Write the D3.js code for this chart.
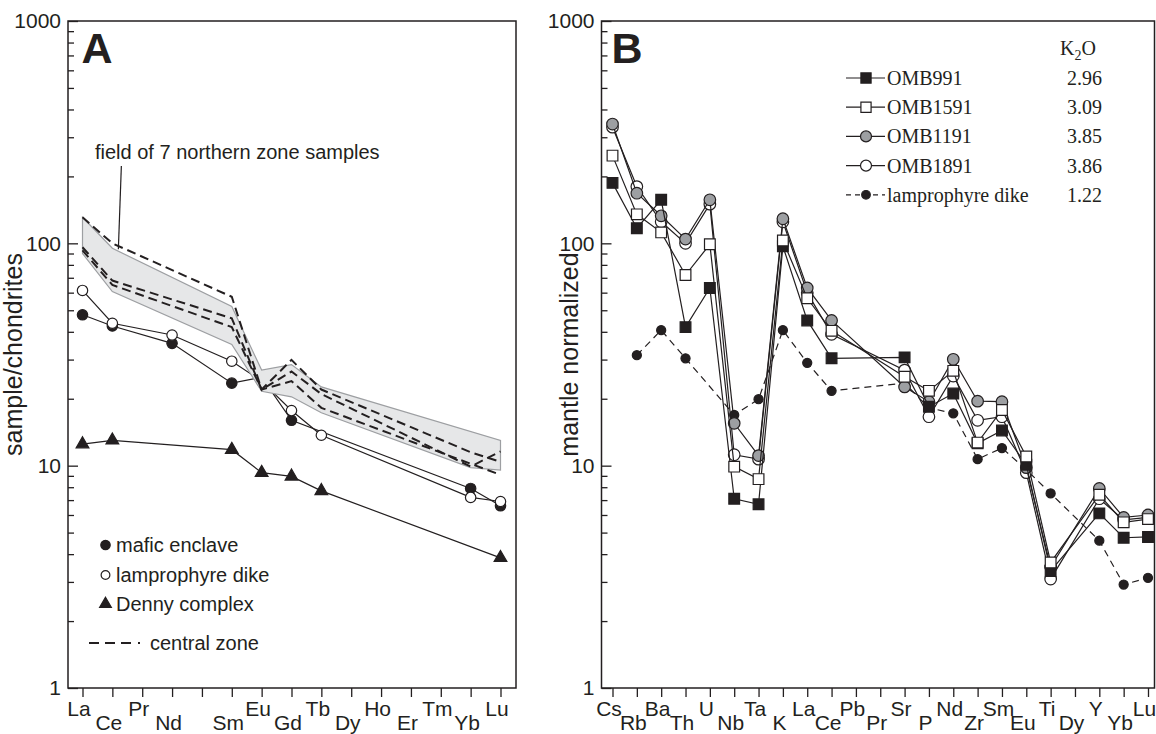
<!DOCTYPE html>
<html>
<head>
<meta charset="utf-8">
<script src="https://cdn.jsdelivr.net/npm/d3@7"></script>
<style>
  body { margin: 0; background: #fff; }
  svg { display: block; font-family: "Liberation Sans", Arial, sans-serif; }
</style>
</head>
<body>
<svg id="chart" width="1156" height="734"></svg>
<script>
// ---- panel A : REE / chondrite ----
const reeLabels = ["La","Ce","Pr","Nd","","Sm","Eu","Gd","Tb","Dy","Ho","Er","Tm","Yb","Lu"];
const maficEnclave = [47.7, 42.5, null, 35.5, null, 23.5, 25, 16.0, null, null, null, null, null, 7.9, 6.6];
const lamprophyreA = [61.4, 43.7, null, 38.7, null, 29.5, 24, 17.7, 13.7, null, null, null, null, 7.2, 6.9];
const dennyComplex = [12.5, 13.0, null, null, null, 11.8, 9.3, 8.95, 7.7, null, null, null, null, null, 3.85];
const fieldUpper   = [131, 95, null, null, null, 52, 26.9, 28.5, 22.6, null, null, null, null, null, 13.0];
const fieldLower   = [90, 60.7, null, null, null, 35.1, 21.6, 20.4, 17.3, null, null, null, null, 9.8, 9.55];
const centralZone1 = [131, 100, null, null, null, 57.5, 22, 29.9, 22, null, null, null, null, 11.5, 10.4];
const centralZone2 = [96, 68, null, null, null, 46, 22, 26.5, 21, null, null, null, null, 9.9, 11.6];
const centralZone3 = [93, 65, null, null, null, 42, 22, 24, 18.2, null, null, null, null, 10.2, 9.1];

// ---- panel B : mantle normalized ----
const traceLabels = ["Cs","Rb","Ba","Th","U","Nb","Ta","K","La","Ce","Pb","Pr","Sr","P","Nd","Zr","Sm","Eu","Ti","Dy","Y","Yb","Lu"];
const omb991  = [187, 117, 157, 42, 63, 7.1, 6.7, 97, 45, 30.4, null, null, 30.7, 18.4, 21.1, 12.6, 14.4, 10.1, 3.36, null, 6.1, 4.74, 4.78];
const omb1591 = [248, 135, 112, 72, 99, 9.9, 8.7, 103, 56.6, 40.4, null, null, 25.1, 21.7, 26.7, 12.7, 17.8, 11.0, 3.67, null, 7.4, 5.56, 5.75];
const omb1191 = [344, 168, 133, 104.5, 157, 15.5, 11.1, 129, 63, 45, null, null, 22.6, 19.4, 30.1, 19.5, 19.4, 9.8, 3.5, null, 7.9, 5.85, 6.0];
const omb1891 = [333, 180, 125, 100, 150, 11.2, 10.7, 125, 60, 39, null, null, 26.9, 16.6, 25.3, 16.0, 16.6, 9.3, 3.09, null, 7.1, 5.7, 5.85];
const lampDike = [null, 31.4, 40.7, 30.4, null, 16.9, 19.9, 40.7, 29.0, 21.7, null, null, 23.5, 18.2, 17.2, 10.7, 12.0, 9.6, 7.5, null, 4.6, 2.92, 3.13];
const sampleNames = ["OMB991","OMB1591","OMB1191","OMB1891","lamprophyre dike"];
const k2oValues = ["2.96","3.09","3.85","3.86","1.22"];

const majorTicks = [1, 10, 100, 1000];
const minorTicks = [2,3,4,5,6,7,8,9,20,30,40,50,60,70,80,90,200,300,400,500,600,700,800,900];

const ink = "#231f20";
const svg = d3.select("#chart");

const y = d3.scaleLog().domain([1, 1000]).range([688, 21]);
const xA = d3.scalePoint().domain(d3.range(reeLabels.length)).range([82.5, 500.5]);
const xB = d3.scalePoint().domain(d3.range(traceLabels.length)).range([612.5, 1148]);

function toPoints(values) {
	return values.map((v, i) => ({i, v})).filter(d => d.v != null);
}

function frame(left, right, x, labels, title, titleX, letter) {
	const g = svg.append("g");

	g.append("rect")
		.attr("x", left).attr("y", 21)
		.attr("width", right - left).attr("height", 667)
		.attr("fill", "none").attr("stroke", ink).attr("stroke-width", 1.5);

	g.append("g")
		.attr("transform", `translate(${left},0)`)
		.call(d3.axisLeft(y).tickValues(majorTicks).tickFormat(d3.format("d")).tickSize(-10).tickPadding(7));
	g.append("g")
		.attr("transform", `translate(${left},0)`)
		.call(d3.axisLeft(y).tickValues(minorTicks).tickFormat("").tickSize(-6));

	const bottom = g.append("g")
		.attr("transform", "translate(0,688)")
		.call(d3.axisBottom(x).tickSize(9).tickFormat(i => labels[i]));
	bottom.selectAll(".tick text")
		.attr("dy", null)
		.attr("x", -4)
		.attr("y", i => i % 2 ? 42 : 28);

	g.selectAll(".domain").remove();
	g.selectAll(".tick line").attr("stroke", ink).attr("stroke-width", 1.3);
	g.selectAll(".tick text").attr("fill", ink).attr("font-size", 21)
		.attr("font-family", "'Liberation Sans', Arial, sans-serif");

	g.append("text")
		.attr("transform", `translate(${titleX},354.5) rotate(-90)`)
		.attr("text-anchor", "middle")
		.attr("font-size", 25).attr("fill", ink)
		.text(title);

	g.append("text")
		.attr("x", x(0) - 1).attr("y", 63)
		.attr("font-size", 43).attr("font-weight", "bold").attr("fill", ink)
		.text(letter);
	return g;
}

function marker(g, shape, fillColor, size, px, py) {
	const types = {circle: d3.symbolCircle, square: d3.symbolSquare, triangle: d3.symbolTriangle};
	g.append("path")
		.attr("d", d3.symbol().type(types[shape]).size(size)())
		.attr("transform", `translate(${px},${py})`)
		.attr("fill", fillColor).attr("stroke", ink).attr("stroke-width", 1.2);
}

function series(g, x, values, style) {
	const pts = toPoints(values);
	g.append("path")
		.attr("d", d3.line().x(d => x(d.i)).y(d => y(d.v))(pts))
		.attr("fill", "none").attr("stroke", ink)
		.attr("stroke-width", style.width || 1.2)
		.attr("stroke-dasharray", style.dash || null);
	if (style.shape) {
		pts.forEach(d => marker(g, style.shape, style.fill, style.size, x(d.i), y(d.v)));
	}
}

// ---------- panel A ----------
const gA = frame(68, 516, xA, reeLabels, "sample/chondrites", 22, "A");

series(gA, xA, dennyComplex, {shape: "triangle", fill: ink, size: 70});
series(gA, xA, maficEnclave, {shape: "circle", fill: ink, size: 85});
series(gA, xA, lamprophyreA, {shape: "circle", fill: "#fff", size: 85});

// the grey field sits over the sample lines, the central zone lines over the field
const upperPts = toPoints(fieldUpper);
const lowerPts = toPoints(fieldLower).reverse();
gA.append("path")
	.attr("d", d3.line().x(d => xA(d.i)).y(d => y(d.v))(upperPts.concat(lowerPts)) + "Z")
	.attr("fill", "#e6e7e8").attr("stroke", "#9d9fa2").attr("stroke-width", 1.2);

[centralZone1, centralZone2, centralZone3].forEach(vals =>
	series(gA, xA, vals, {width: 2, dash: "9,5"}));

gA.append("text")
	.attr("x", 95).attr("y", 159)
	.attr("font-size", 20).attr("fill", ink)
	.text("field of 7 northern zone samples");
gA.append("line")
	.attr("x1", xA(1) + 9).attr("y1", 166)
	.attr("x2", xA(1) + 6).attr("y2", y(94))
	.attr("stroke", ink).attr("stroke-width", 1.2);

const legendA = [
	{label: "mafic enclave", shape: "circle", fill: ink, size: 70, yy: 545},
	{label: "lamprophyre dike", shape: "circle", fill: "#fff", size: 60, yy: 575},
	{label: "Denny complex", shape: "triangle", fill: ink, size: 60, yy: 604}
];
legendA.forEach(d => {
	marker(gA, d.shape, d.fill, d.size, 105.5, d.yy);
	gA.append("text").attr("x", 116).attr("y", d.yy + 7)
		.attr("font-size", 20).attr("fill", ink).text(d.label);
});
gA.append("line")
	.attr("x1", 89).attr("x2", 142).attr("y1", 643).attr("y2", 643)
	.attr("stroke", ink).attr("stroke-width", 2)
	.attr("stroke-dasharray", "10,6,10,6,10,7,2,99");
gA.append("text").attr("x", 150).attr("y", 650)
	.attr("font-size", 20).attr("fill", ink).text("central zone");

// ---------- panel B ----------
const gB = frame(601.5, 1154.5, xB, traceLabels, "mantle normalized", 578, "B");

const stylesB = [
	{shape: "square", fill: ink, size: 115},
	{shape: "square", fill: "#fff", size: 115},
	{shape: "circle", fill: "#9d9fa2", size: 105},
	{shape: "circle", fill: "#fff", size: 105},
	{shape: "circle", fill: ink, size: 65, dash: "7,5"}
];
const valuesB = [omb991, omb1591, omb1191, omb1891, lampDike];

// drawing order, bottom to top
[4, 3, 2, 0, 1].forEach(k => series(gB, xB, valuesB[k], stylesB[k]));

const legendB = gB.append("g").attr("font-family", "'Liberation Serif', 'Times New Roman', serif")
	.attr("font-size", 20).attr("fill", ink);
const k2o = legendB.append("text").attr("x", 1060).attr("y", 55);
k2o.append("tspan").text("K");
k2o.append("tspan").attr("font-size", 14).attr("dy", 5).text("2");
k2o.append("tspan").attr("dy", -5).text("O");

sampleNames.forEach((name, k) => {
	const yy = 78 + k * 29.2;
	const s = stylesB[k];
	legendB.append("line")
		.attr("x1", 846).attr("x2", 885).attr("y1", yy).attr("y2", yy)
		.attr("stroke", ink).attr("stroke-width", 1.2)
		.attr("stroke-dasharray", s.dash ? "5,4" : null);
	marker(legendB, s.shape, s.fill, s.size * 0.9, 866, yy);
	legendB.append("text").attr("x", 887).attr("y", yy + 7).text(name);
	legendB.append("text").attr("x", 1102).attr("y", yy + 7)
		.attr("text-anchor", "end").text(k2oValues[k]);
});
</script>
</body>
</html>
